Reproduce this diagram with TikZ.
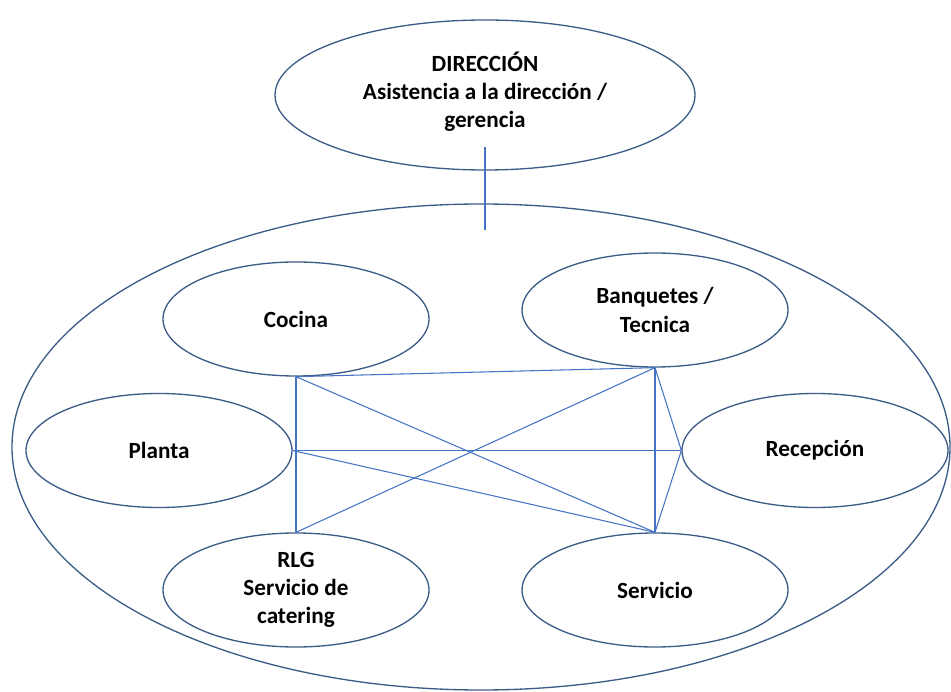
\documentclass[tikz,border=0pt]{standalone}
\usepackage{fontspec}
\setmainfont{Carlito}
\usetikzlibrary{shapes.geometric}
\definecolor{borde}{RGB}{60,92,136}
\definecolor{enlace}{RGB}{68,114,196}
\tikzset{
	area/.style={ellipse, draw=borde, line width=0.75pt, inner sep=0pt, align=center, font=\fontsize{13.2}{16}\selectfont\bfseries, minimum width=5.32cm, minimum height=2.28cm},
	enlace/.style={draw=enlace, line width=0.6pt}
}
\begin{document}
\begin{tikzpicture}
			\useasboundingbox (0,0) rectangle (19.02,13.82);
			%direccion
			\node (direccion) at (9.70, 11.92) [area, minimum width=8.4cm, minimum height=3.0cm, text depth=0.2cm]{DIRECCIÓN\\Asistencia a la dirección /\\gerencia};
			\node (equipo) at (9.62, 4.88) [area, minimum width=18.76cm, minimum height=9.72cm]{};
			\coordinate (arriba) at (9.70, 10.88);
			\coordinate (abajo) at (9.70, 9.22);
			\draw[enlace] (arriba) -- (abajo);
			
			%departamentos
			\node (cocina) at (5.92, 7.44) [area]{Cocina};
			\node (planta) at (3.18, 4.81) [area]{Planta};
			\node (rlg) at (5.92, 2.02) [area]{RLG\\Servicio de\\catering};
			\node (banquetes) at (13.10, 7.62) [area]{Banquetes /\\Tecnica};
			\node (recepcion) at (16.30, 4.81) [area]{Recepción};
			\node (servicio) at (13.10, 2.02) [area]{Servicio};
			
			%enlaces
			\draw[enlace] (cocina.south) -- (banquetes.south);
			\draw[enlace] (cocina.south) -- (rlg.north);
			\draw[enlace] (cocina.south) -- (servicio.north);
			\draw[enlace] (planta.east) -- (recepcion.west);
			\draw[enlace] (planta.east) -- (servicio.north);
			\draw[enlace] (rlg.north) -- (banquetes.south);
			\draw[enlace] (banquetes.south) -- (servicio.north);
			\draw[enlace] (banquetes.south) -- (recepcion.west);
			\draw[enlace] (recepcion.west) -- (servicio.north);
		\end{tikzpicture}
\end{document}
